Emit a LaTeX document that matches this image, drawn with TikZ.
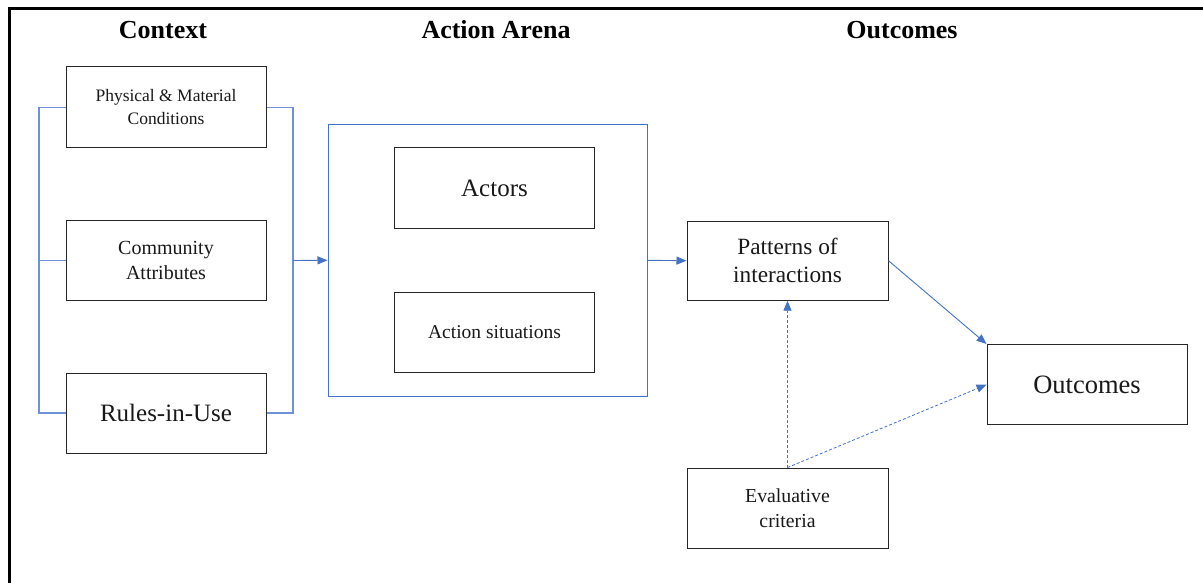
\documentclass[tikz,border=0pt]{standalone}
\usepackage{fontspec}
\setmainfont{Liberation Serif}
\usetikzlibrary{arrows.meta}
\definecolor{lnblue}{HTML}{4472C4}
\definecolor{brblue}{HTML}{6E92D6}
\tikzset{
  box/.style={draw=black!85, line width=1pt, minimum width=200pt, minimum height=80pt, inner sep=0pt, align=center, text=black!90},
  head/.style={font=\bfseries\fontsize{26}{30}\selectfont, anchor=base, inner sep=0pt},
  conn/.style={draw=lnblue, line width=0.9pt},
  brk/.style={draw=brblue, line width=1.1pt},
  arr/.style={conn, -{Triangle[length=10pt,width=8pt]}},
  darr/.style={draw=lnblue, line width=0.8pt, dash pattern=on 3pt off 2pt, -{Triangle[length=10pt,width=8pt]}}
}
\begin{document}
\begin{tikzpicture}[x=1pt,y=-1pt]
\useasboundingbox (0,0) rectangle (1203,583);
\fill[white] (0,0) rectangle (1203,583);
% outer frame (cropped)
\draw[line width=2.6pt, black] (9.5,583) -- (9.5,8.5) -- (1203,8.5);
% headings
\node[head] (hctx) at (163,39) {Context};
\node[head] (harena) at (496,39) {Action Arena};
\node[head] (hout) at (902,39) {Outcomes};
% context boxes
\node[box, minimum height=81pt, font=\fontsize{17.5}{23}\selectfont] (phys) at (166,107.5) {Physical \& Material\\Conditions};
\node[box, font=\fontsize{20}{25}\selectfont] (comm) at (166,260.5) {Community\\Attributes};
\node[box, font=\fontsize{25}{30}\selectfont] (rules) at (166,413) {Rules-in-Use};
% action arena
\node[draw=lnblue, line width=0.9pt, minimum width=319.5pt, minimum height=271.3pt, inner sep=0pt] (arena) at (487.7,260.3) {};
\node[box, font=\fontsize{25}{30}\selectfont] (actors) at (494.5,188) {Actors};
\node[box, font=\fontsize{19.5}{24}\selectfont] (sit) at (494.5,332) {Action situations};
% outcomes
\node[box, minimum width=201pt, minimum height=79pt, font=\fontsize{23.3}{28}\selectfont] (pat) at (787.5,260.7) {Patterns of\\interactions};
\node[box, minimum height=80.5pt, font=\fontsize{26.5}{30}\selectfont] (out) at (1087,384.7) {Outcomes};
\node[box, minimum width=201pt, font=\fontsize{19.8}{25}\selectfont] (eval) at (787.5,508) {Evaluative\\criteria};
% brackets
\coordinate (lb) at (39,260.5);
\coordinate (rb) at (293,260.5);
\draw[brk] (phys.west) -| (lb) |- (rules.west);
\draw[brk] (comm.west) -- (lb);
\draw[brk] (phys.east) -| (rb) |- (rules.east);
\draw[arr] (rb) -- (arena.west);
% arena to patterns
\draw[arr] (arena.east) -- (pat.west);
\draw[arr] (pat.east) -- (out.north west);
\draw[darr] (eval.north) -- (pat.south);
\draw[darr] (eval.north) -- (out.west);
\end{tikzpicture}
\end{document}
